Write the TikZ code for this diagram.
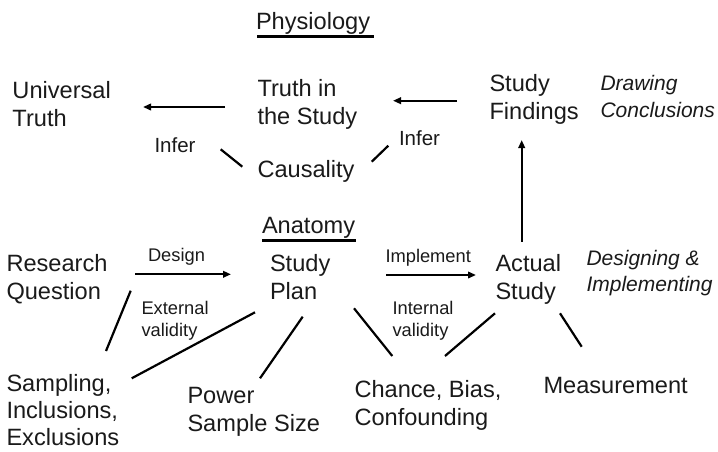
\documentclass[tikz,border=0pt]{standalone}
\usepackage{fontspec}
\setmainfont{Liberation Sans}
\usetikzlibrary{arrows.meta}
\newcommand{\mainf}{\fontsize{23.6}{28}\selectfont}
\newcommand{\tightf}{\fontsize{23.6}{27.2}\selectfont}
\newcommand{\inff}{\fontsize{20.5}{24}\selectfont}
\newcommand{\smallf}{\fontsize{18.3}{22}\selectfont}
\newcommand{\itf}{\fontsize{21}{26.3}\selectfont\itshape}
\newcommand{\ml}[1]{\begin{tabular}[t]{@{}l@{}}#1\end{tabular}}
\definecolor{ink}{HTML}{1A1A1A}
\tikzset{
  txt/.style={anchor=base west, inner sep=0pt, outer sep=0pt, text=ink, font=\mainf},
  lbl/.style={txt, font=\smallf},
  inf/.style={txt, font=\inff},
  itl/.style={txt, font=\itf},
  conn/.style={line width=2.2pt, black},
  arr/.style={conn, -{Triangle[length=8pt,width=6.5pt]}},
  uline/.style={line width=3pt, black}
}
\begin{document}
\begin{tikzpicture}[x=1pt,y=-1pt]
\useasboundingbox (0,0) rectangle (718,451);
% texts
\node[txt] (phys) at (256,29) {Physiology};
\node[txt] (ut) at (12.5,98) {\ml{Universal\\Truth}};
\node[txt] (tis) at (257.5,96.7) {\ml{Truth in\\the Study}};
\node[txt] (sf) at (489.5,91.7) {\ml{Study\\Findings}};
\node[itl] (dc) at (600.5,90.7) {\ml{Drawing\\Conclusions}};
\node[inf] (infl) at (154.5,152.7) {Infer};
\node[inf] (infr) at (399,145.7) {Infer};
\node[txt] (caus) at (257.5,177.3) {Causality};
\node[txt] (anat) at (262,233) {Anatomy};
\node[txt] (rq) at (6.5,271) {\ml{Research\\Question}};
\node[lbl] (des) at (148,261.7) {Design};
\node[txt] (sp) at (270,271.7) {\ml{Study\\Plan}};
\node[lbl] (imp) at (385.5,262.3) {Implement};
\node[txt] (as) at (495.5,271.7) {\ml{Actual\\Study}};
\node[itl] (di) at (586.5,265) {\ml{Designing \&\\Implementing}};
\node[lbl] (ev) at (141.5,314) {\ml{External\\validity}};
\node[lbl] (iv) at (392.5,314) {\ml{Internal\\validity}};
\node[txt, font=\tightf] (sie) at (6.5,391.5) {\ml{Sampling,\\Inclusions,\\Exclusions}};
\node[txt] (pss) at (187.5,403.3) {\ml{Power\\Sample Size}};
\node[txt] (cbc) at (354.5,397.7) {\ml{Chance, Bias,\\Confounding}};
\node[txt] (meas) at (543.5,393.3) {Measurement};
% underlines
\coordinate (phys-a) at (257,36.5);
\coordinate (phys-b) at (374,36.5);
\coordinate (anat-a) at (262,240.5);
\coordinate (anat-b) at (356,240.5);
\draw[uline] (phys-a) -- (phys-b);
\draw[uline] (anat-a) -- (anat-b);
% connector end points
\coordinate (tis-w) at (225,107);
\coordinate (ut-e) at (143,107);
\coordinate (sf-w) at (457,100.7);
\coordinate (tis-e) at (393,100.7);
\coordinate (infl-a) at (220.7,149.3);
\coordinate (caus-w) at (242.3,166.7);
\coordinate (caus-e) at (371.7,161.7);
\coordinate (infr-a) at (388.3,145.7);
\coordinate (as-n) at (521.7,241.7);
\coordinate (sf-s) at (521.7,140);
\coordinate (rq-e) at (135,274.3);
\coordinate (sp-w) at (231,274.3);
\coordinate (sp-e) at (386,275);
\coordinate (as-w) at (476,275);
\coordinate (rq-s) at (130.7,290.7);
\coordinate (sie-n) at (106,351);
\coordinate (sp-sw) at (255,312.3);
\coordinate (sie-ne) at (131.7,378.3);
\coordinate (sp-s) at (302.7,316.7);
\coordinate (pss-n) at (260,378.3);
\coordinate (sp-se) at (354,308.3);
\coordinate (cbc-nw) at (392.3,356);
\coordinate (as-sw) at (495,313.3);
\coordinate (cbc-ne) at (445,356);
\coordinate (as-se) at (560,313.3);
\coordinate (meas-n) at (581.7,346.7);
% connectors
\draw[arr] (tis-w) -- (ut-e);
\draw[arr] (sf-w) -- (tis-e);
\draw[conn] (infl-a) -- (caus-w);
\draw[conn] (caus-e) -- (infr-a);
\draw[arr] (as-n) -- (sf-s);
\draw[arr] (rq-e) -- (sp-w);
\draw[arr] (sp-e) -- (as-w);
\draw[conn] (rq-s) -- (sie-n);
\draw[conn] (sp-sw) -- (sie-ne);
\draw[conn] (sp-s) -- (pss-n);
\draw[conn] (sp-se) -- (cbc-nw);
\draw[conn] (as-sw) -- (cbc-ne);
\draw[conn] (as-se) -- (meas-n);
\end{tikzpicture}
\end{document}
